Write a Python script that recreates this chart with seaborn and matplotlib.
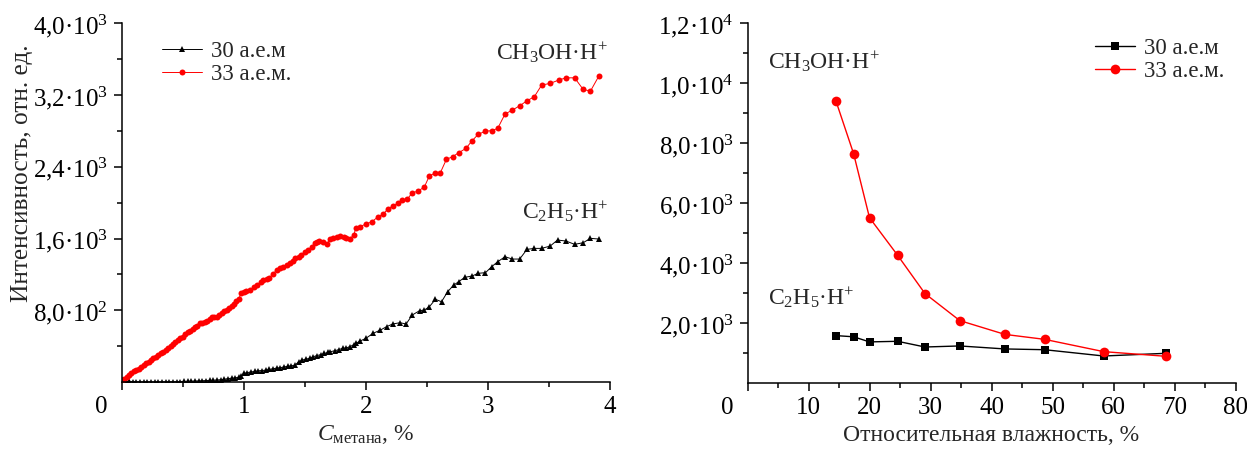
import matplotlib
matplotlib.use("Agg")
import matplotlib.pyplot as plt
import matplotlib.transforms as mtransforms
import seaborn as sns
import pandas as pd

# ---------------- data ----------------
# Left panel: intensity vs methane concentration
c_red = [0.00, 0.02, 0.04, 0.06, 0.08, 0.10, 0.12, 0.14, 0.16, 0.18, 0.20, 0.22, 0.24, 0.26, 0.28,
         0.30, 0.32, 0.34, 0.36, 0.38, 0.40, 0.42, 0.44, 0.46, 0.48, 0.50, 0.52, 0.54, 0.56, 0.58,
         0.60, 0.62, 0.64, 0.66, 0.68, 0.70, 0.72, 0.74, 0.76, 0.78, 0.80, 0.82, 0.84, 0.86, 0.88,
         0.90, 0.92, 0.94, 0.96, 0.98, 1.00, 1.02, 1.05, 1.08, 1.11, 1.14, 1.16, 1.19, 1.21, 1.24,
         1.27, 1.30, 1.32, 1.35, 1.38, 1.40, 1.42, 1.45, 1.47, 1.50, 1.53, 1.56, 1.58, 1.60, 1.62,
         1.65, 1.68, 1.71, 1.73, 1.76, 1.79, 1.82, 1.84, 1.87, 1.90, 1.92, 1.95, 2.00, 2.05, 2.10,
         2.14, 2.18, 2.22, 2.26, 2.30, 2.34, 2.38, 2.43, 2.48, 2.52, 2.57, 2.61, 2.66, 2.71, 2.76,
         2.82, 2.87, 2.92, 2.98, 3.03, 3.08, 3.14, 3.20, 3.26, 3.32, 3.38, 3.44, 3.51, 3.58, 3.64,
         3.71, 3.78, 3.84, 3.91]
i_red = [22, 35, 59, 80, 100, 118, 130, 148, 165, 185, 208, 228, 245, 264, 282,
         300, 318, 335, 355, 378, 405, 428, 445, 465, 487, 505, 535, 553, 570, 592,
         610, 630, 654, 662, 668, 680, 705, 728, 730, 728, 748, 772, 790, 808, 828,
         845, 870, 906, 930, 996, 1005, 1012, 1026, 1055, 1081, 1110, 1137, 1152, 1163, 1205,
         1249, 1270, 1285, 1300, 1323, 1350, 1379, 1398, 1416, 1445, 1472, 1510, 1546, 1564, 1575,
         1560, 1540, 1590, 1602, 1618, 1628, 1615, 1602, 1595, 1640, 1720, 1731, 1761, 1787, 1843,
         1869, 1929, 1962, 1992, 2029, 2040, 2110, 2129, 2177, 2297, 2333, 2333, 2483, 2512, 2556,
         2605, 2690, 2761, 2798, 2802, 2828, 2988, 3032, 3080, 3136, 3181, 3311, 3330, 3367, 3392,
         3392, 3263, 3244, 3415]

c_black = [0.00, 0.03, 0.06, 0.09, 0.12, 0.15, 0.18, 0.21, 0.24, 0.27, 0.30, 0.33, 0.36, 0.39, 0.42,
           0.45, 0.48, 0.51, 0.54, 0.57, 0.60, 0.63, 0.66, 0.69, 0.72, 0.75, 0.78, 0.81, 0.84, 0.87,
           0.90, 0.93, 0.96, 0.98, 1.00, 1.03, 1.06, 1.09, 1.12, 1.15, 1.18, 1.21, 1.24, 1.27, 1.30,
           1.33, 1.36, 1.39, 1.42, 1.45, 1.48, 1.51, 1.54, 1.57, 1.60, 1.63, 1.66, 1.69, 1.71, 1.75,
           1.78, 1.81, 1.84, 1.87, 1.90, 1.92, 1.95, 2.00, 2.06, 2.12, 2.17, 2.22, 2.28, 2.33, 2.38,
           2.44, 2.48, 2.52, 2.57, 2.62, 2.67, 2.72, 2.76, 2.81, 2.87, 2.92, 2.98, 3.03, 3.08, 3.14,
           3.20, 3.26, 3.32, 3.38, 3.44, 3.51, 3.57, 3.64, 3.71, 3.78, 3.84, 3.91]
i_black = [10, 8, 6, 5, 4, 3, 2, 2, 2, 1, 1, 2, 2, 3, 3,
           4, 5, 6, 8, 9, 11, 12, 14, 16, 18, 20, 22, 25, 30, 38,
           42, 45, 55, 70, 95, 105, 112, 118, 125, 128, 132, 140, 148, 155, 160,
           168, 175, 180, 188, 226, 245, 255, 264, 282, 295, 305, 318, 330, 338, 350,
           362, 376, 380, 395, 415, 431, 455, 487, 543, 580, 617, 647, 661, 647, 747,
           795, 803, 839, 922, 895, 1007, 1081, 1118, 1167, 1182, 1212, 1219, 1285, 1341, 1397,
           1371, 1371, 1479, 1490, 1490, 1516, 1583, 1572, 1535, 1553, 1602, 1594]

# Right panel: intensity vs relative humidity
rh = [14.5, 17.4, 20.0, 24.6, 29.1, 34.8, 42.2, 48.7, 58.4, 68.6]
int30 = [1590, 1550, 1380, 1400, 1210, 1245, 1145, 1120, 910, 1000]
int33 = [9410, 7650, 5520, 4270, 2990, 2090, 1630, 1465, 1055, 900]

series_names = ["30 а.е.м", "33 а.е.м."]

left_yticks = [800, 1600, 2400, 3200, 4000]
left_ylabels = ["8,0·10$^{2}$", "1,6·10$^{3}$", "2,4·10$^{3}$", "3,2·10$^{3}$", "4,0·10$^{3}$"]
left_xticks = [0, 1, 2, 3, 4]
right_yticks = [2000, 4000, 6000, 8000, 10000, 12000]
right_ylabels = ["2,0·10$^{3}$", "4,0·10$^{3}$", "6,0·10$^{3}$", "8,0·10$^{3}$",
                 "1,0·10$^{4}$", "1,2·10$^{4}$"]
right_xticks = [0, 10, 20, 30, 40, 50, 60, 70, 80]

# ---------------- style ----------------
sns.set_theme(style="ticks")
plt.rcParams["font.family"] = ["Liberation Serif", "DejaVu Serif"]
plt.rcParams["mathtext.fontset"] = "custom"
plt.rcParams["mathtext.rm"] = "Liberation Serif"
plt.rcParams["mathtext.it"] = "Liberation Serif:italic"
plt.rcParams["mathtext.bf"] = "Liberation Serif:bold"
plt.rcParams["axes.linewidth"] = 1.1
plt.rcParams["xtick.major.width"] = 1.1
plt.rcParams["ytick.major.width"] = 1.1
plt.rcParams["xtick.minor.width"] = 1.1
plt.rcParams["ytick.minor.width"] = 1.1
plt.rcParams["xtick.color"] = "black"
plt.rcParams["ytick.color"] = "black"
plt.rcParams["axes.edgecolor"] = "black"

TICK_FS = 18
LAB_FS = 17
YLAB_FS = 18.3
LEG_FS = 16.5
ANN_FS = 17

fig = plt.figure(figsize=(12.47, 4.5), dpi=100)
W, H = 1247, 450
axL = fig.add_axes([121.7 / W, 1 - 382 / H, (610 - 121.7) / W, (382 - 23.3) / H])
axR = fig.add_axes([747.5 / W, 1 - 383.3 / H, (1235.5 - 747.5) / W, (383.3 - 23.3) / H])

red = "#ff0000"
# Left panel
dfL30 = pd.DataFrame({"x": c_black, "y": i_black})
dfL33 = pd.DataFrame({"x": c_red, "y": i_red})
sns.lineplot(data=dfL30, x="x", y="y", ax=axL, sort=False, color="black", lw=0.7,
             marker="^", markersize=4.2, markeredgewidth=0, label=series_names[0])
sns.lineplot(data=dfL33, x="x", y="y", ax=axL, sort=False, color=red, lw=0.7,
             marker="o", markersize=4.3, markeredgewidth=0, label=series_names[1])

# Right panel
dfR30 = pd.DataFrame({"x": rh, "y": int30})
dfR33 = pd.DataFrame({"x": rh, "y": int33})
sns.lineplot(data=dfR30, x="x", y="y", ax=axR, sort=False, color="black", lw=1.0,
             marker="s", markersize=6.0, markeredgewidth=0, label=series_names[0])
sns.lineplot(data=dfR33, x="x", y="y", ax=axR, sort=False, color=red, lw=1.0,
             marker="o", markersize=7.0, markeredgewidth=0, label=series_names[1])

for ax in (axL, axR):
    sns.despine(ax=ax)
    ax.set_facecolor("white")
    ax.tick_params(axis="both", which="major", direction="out", length=6, labelsize=TICK_FS,
                   pad=4)
    ax.tick_params(axis="both", which="minor", direction="out", length=3.5)
    ax.grid(False)

axL.set_xlim(0, 4)
axL.set_ylim(0, 4000)
axL.set_xticks(left_xticks)
axL.set_xticks([0.5, 1.5, 2.5, 3.5], minor=True)
axL.set_yticks(left_yticks, left_ylabels)
axL.set_yticks([400, 1200, 2000, 2800, 3600], minor=True)
axL.set_xlabel("$\\mathit{C}_{\\mathrm{метана}}$, %", fontsize=LAB_FS, labelpad=4)
axL.set_ylabel("")

axR.set_xlim(0, 80)
axR.set_ylim(0, 12000)
axR.set_xticks(right_xticks)
axR.set_xticks([5, 15, 25, 35, 45, 55, 65, 75], minor=True)
axR.set_yticks(right_yticks, right_ylabels)
axR.set_yticks([1000, 3000, 5000, 7000, 9000, 11000], minor=True)
axR.set_xlabel("Относительная влажность, %", fontsize=LAB_FS, labelpad=4)
axR.set_ylabel("")

# shift the "0" tick label left (as in reference)
fig.canvas.draw()
for ax in (axL, axR):
    lab0 = ax.get_xticklabels()[0]
    lab0.set_transform(lab0.get_transform() +
                       mtransforms.ScaledTranslation(-0.2, 0, fig.dpi_scale_trans))

fig.text(22 / W, 1 - 173 / H, "Интенсивность, отн. ед.", rotation=90, fontsize=YLAB_FS,
         ha="center", va="center")

# annotations
axL.text(0.996, 0.917, "CH$_{3}$OH·H$^{+}$", transform=axL.transAxes, fontsize=ANN_FS,
         ha="right", va="center")
axL.text(0.996, 0.474, "C$_{2}$H$_{5}$·H$^{+}$", transform=axL.transAxes, fontsize=ANN_FS,
         ha="right", va="center")
axR.text(0.041, 0.895, "CH$_{3}$OH·H$^{+}$", transform=axR.transAxes, fontsize=ANN_FS,
         ha="left", va="center")
axR.text(0.041, 0.237, "C$_{2}$H$_{5}$·H$^{+}$", transform=axR.transAxes, fontsize=ANN_FS,
         ha="left", va="center")

# legends
axL.legend(loc="upper left", bbox_to_anchor=((162 - 121.7) / 488.3, (382 - 41) / 358.7),
           frameon=False, fontsize=LEG_FS, handlelength=1.75, handletextpad=0.4,
           borderpad=0, borderaxespad=0, labelspacing=0.08)
axR.legend(loc="upper left", bbox_to_anchor=((1095 - 747.5) / 488, (383.3 - 38) / 360),
           frameon=False, fontsize=LEG_FS, handlelength=1.75, handletextpad=0.4,
           borderpad=0, borderaxespad=0, labelspacing=0.08)

fig.savefig("out.png", dpi=100, facecolor="white")
